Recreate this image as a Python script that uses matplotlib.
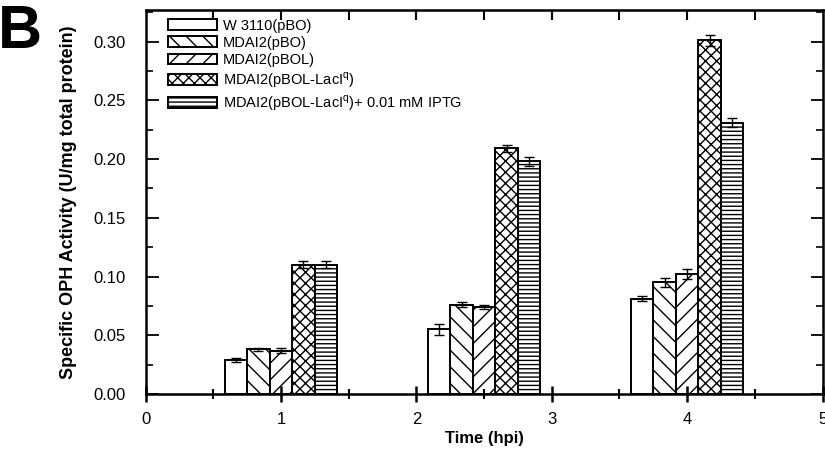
import matplotlib.pyplot as plt
import numpy as np

plt.rcParams['font.family'] = ['Liberation Sans', 'DejaVu Sans']
plt.rcParams['hatch.linewidth'] = 1.0

times = [1.0, 2.5, 4.0]
labels = ['W 3110(pBO)', 'MDAI2(pBO)', 'MDAI2(pBOL)',
          'MDAI2(pBOL-LacI$^\\mathregular{q}$)',
          'MDAI2(pBOL-LacI$^\\mathregular{q}$)+ 0.01 mM IPTG']
w3110 = [0.029, 0.055, 0.081]
pbo = [0.038, 0.076, 0.095]
pbol = [0.037, 0.074, 0.102]
laciq = [0.110, 0.209, 0.301]
iptg = [0.110, 0.198, 0.231]
w3110_err = [0.002, 0.005, 0.002]
pbo_err = [0.0015, 0.002, 0.004]
pbol_err = [0.002, 0.002, 0.004]
laciq_err = [0.003, 0.003, 0.005]
iptg_err = [0.003, 0.004, 0.004]

series = [w3110, pbo, pbol, laciq, iptg]
errs = [w3110_err, pbo_err, pbol_err, laciq_err, iptg_err]
hatches = ['', '\\\\', '//', 'xxx', '----']

fig = plt.figure(figsize=(8.25, 4.49), dpi=100)
ax = fig.add_axes([0.1764, 0.1225, 0.8206, 0.8555])

w = 0.166
x = np.array(times)
for i in range(5):
    ax.bar(x + (i - 2) * w, series[i], w, color='white', edgecolor='black',
           linewidth=1.4, hatch=hatches[i], label=labels[i])
    ax.errorbar(x + (i - 2) * w, series[i], yerr=errs[i], fmt='none',
                ecolor='black', elinewidth=1.0, capsize=3.5, capthick=1.0)

ax.set_xlim(0, 5)
ax.set_ylim(0, 0.327)
ax.set_xticks([0, 1, 2, 3, 4, 5])
ax.set_xticks([0.5, 1.5, 2.5, 3.5, 4.5], minor=True)
ax.set_yticks([0.0, 0.05, 0.10, 0.15, 0.20, 0.25, 0.30])
ax.set_yticks(np.arange(0.025, 0.33, 0.05), minor=True)
ax.set_yticklabels(['0.00', '0.05', '0.10', '0.15', '0.20', '0.25', '0.30'])
ax.tick_params(axis='x', which='major', direction='inout', length=12, width=1.8,
               labelsize=12, pad=7)
ax.tick_params(axis='x', which='minor', direction='inout', length=7, width=1.5)
ax.tick_params(axis='y', which='major', direction='in', length=9, width=1.3,
               labelsize=12, right=True, pad=14)
ax.tick_params(axis='y', which='minor', direction='in', length=5, width=1.2, right=True)
for s in ax.spines.values():
    s.set_linewidth(1.8)

top = ax.secondary_xaxis('top')
top.set_xticks([0.5, 1, 1.5, 2, 2.5, 3, 3.5, 4, 4.5])
top.tick_params(direction='in', length=7, width=1.5, labeltop=False)

ax.set_xlabel('Time (hpi)', fontsize=12, fontweight='bold', labelpad=3)
ax.set_ylabel('Specific OPH Activity (U/mg total protein)', fontsize=13,
              fontweight='bold', labelpad=12)

ax.legend(loc='upper left', frameon=False, fontsize=10.5, handlelength=3.4,
          handleheight=0.75, handletextpad=0.4, labelspacing=0.22,
          borderaxespad=0.2, bbox_to_anchor=(0.02, 1.0))

fig.text(-0.002, 0.99, 'B', fontsize=44, fontweight='bold', va='top', ha='left')

fig.savefig('out.png', dpi=100)
